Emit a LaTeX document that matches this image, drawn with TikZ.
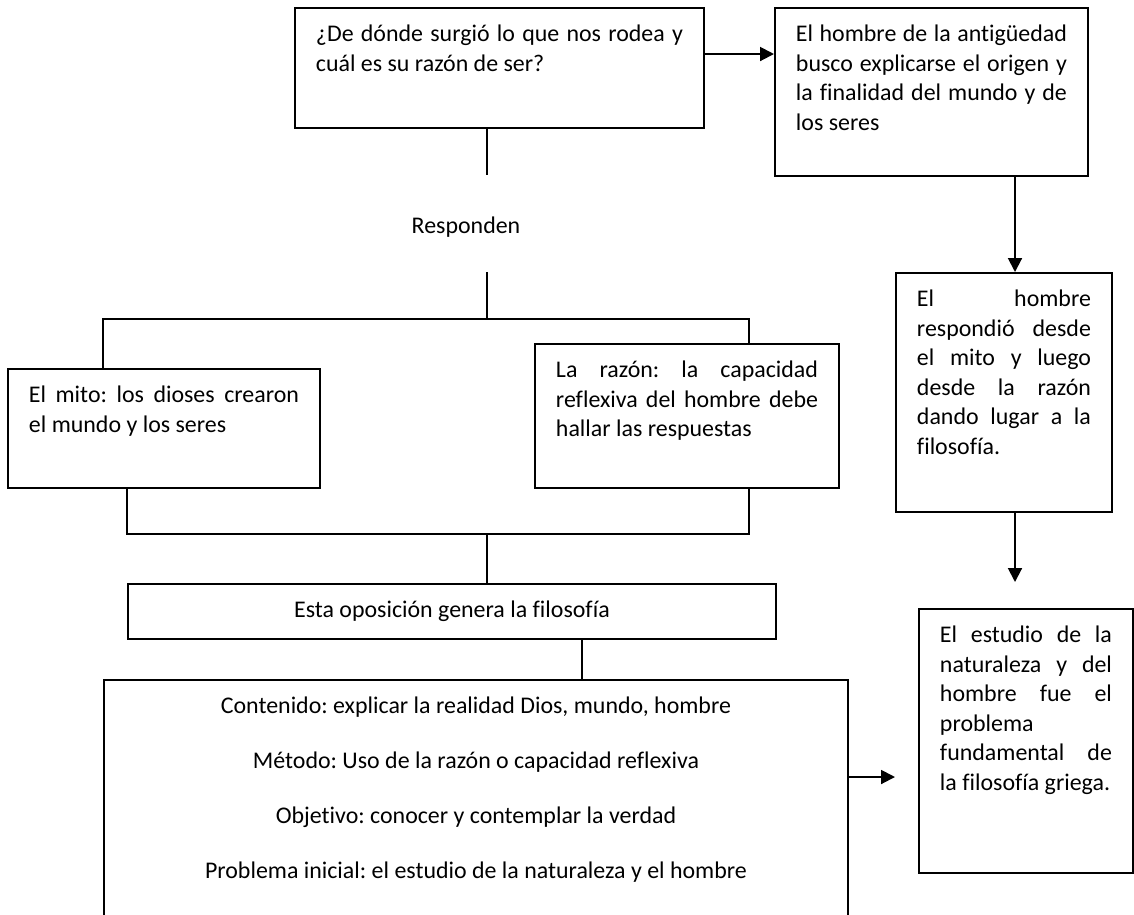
\documentclass[tikz,border=0pt]{standalone}
\usepackage{fontspec}
\setmainfont{Carlito}[Ligatures=NoCommon]
\usetikzlibrary{arrows.meta,calc,positioning}
\tolerance=10000
\hbadness=10000
\hfuzz=20pt
\frenchspacing
% texto de caja: ancho y alto en px
\newcommand{\cajatxt}[3]{\parbox[t][\dimexpr0.46pt*#2\relax][t]{\dimexpr0.46pt*#1\relax}{#3}}
% linea justificada
\newcommand{\lj}[1]{\makebox[\linewidth][s]{#1}\\}

\begin{document}
\begin{tikzpicture}[
    x=0.46pt, y=-0.46pt, line width=0.9pt,
    caja/.style={draw, anchor=north west, inner xsep=21*0.46pt, inner ysep=17*0.46pt, font=\fontsize{11}{13.6}\selectfont},
    texto/.style={font=\fontsize{11}{13.6}\selectfont},
    flecha/.style={-{Triangle[length=6.4pt, width=6.4pt]}}
]
    \path[use as bounding box, clip] (0,0) rectangle (1134,914);

    % Pregunta inicial y respuesta de la derecha
    \node[caja] (pregunta) at (294,7) {\cajatxt{367}{86}{\lj{¿De dónde surgió lo que nos rodea y}cuál es su razón de ser?}};
    \node[caja] (origen) at (774,7) {\cajatxt{271}{134}{\lj{El hombre de la antigüedad}\lj{busco explicarse el origen y}\lj{la finalidad del mundo y de}los seres}};
    \node[caja] (respondio) at (895,272) {\cajatxt{174}{205}{\lj{El hombre}\lj{respondió desde}\lj{el mito y luego}\lj{desde la razón}\lj{dando lugar a la}filosofía.}};
    \node[caja] (estudio) at (918,608) {\cajatxt{172}{230}{\lj{El estudio de la}\lj{naturaleza y del}\lj{hombre fue el}problema\\\lj{fundamental de}la filosofía griega.}};

    % Rama central
    \node[texto] (responden) at (466,227) {Responden};
    \node[caja] (mito) at (7,368) {\cajatxt{270}{85}{\lj{El mito: los dioses crearon}el mundo y los seres}};
    \node[caja] (razon) at (534,343) {\cajatxt{262}{110}{\lj{La razón: la capacidad}\lj{reflexiva del hombre debe}hallar las respuestas}};
    \node[caja, anchor=north west, minimum width=648*0.46pt, minimum height=49*0.46pt] (oposicion) at (127,583) {Esta oposición genera la filosofía};
    \node[caja] (aspectos) at (103,679) {\cajatxt{702}{226}{\centering Contenido: explicar la realidad Dios, mundo, hombre\\[11.7pt]
        Método: Uso de la razón o capacidad reflexiva\\[11.7pt]
        Objetivo: conocer y contemplar la verdad\\[11.7pt]
        Problema inicial: el estudio de la naturaleza y el hombre\par}};

    % Puntos de union
    \coordinate (corteA) at (487,175);
    \coordinate (corteB) at (487,272);
    \coordinate (ramaI) at (103,319);
    \coordinate (ramaD) at (749,319);
    \coordinate (uneI) at (127,534);
    \coordinate (uneC) at (487,534);
    \coordinate (uneD) at (749,534);
    \coordinate (baja) at (582,679);
    \coordinate (bajada) at (1015,0);
    \coordinate (puntaR) at (1015,582);
    \coordinate (puntaA) at (895,777);

    % Conectores
    \draw (corteA |- pregunta.south) -- (corteA);
    \draw (corteB) -- (corteB |- ramaI);
    \draw (ramaI |- mito.north) -- (ramaI) -- (ramaD) -- (ramaD |- razon.north);
    \draw (uneI |- mito.south) -- (uneI) -- (uneD) -- (uneD |- razon.south);
    \draw (uneC) -- (uneC |- oposicion.north);
    \draw (baja |- oposicion.south) -- (baja |- aspectos.north);

    \draw[flecha] ($(pregunta.north east)+(0,47)$) -- ($(origen.north west)+(0,47)$);
    \draw[flecha] (bajada |- origen.south) -- (bajada |- respondio.north);
    \draw[flecha] (puntaR |- respondio.south) -- (puntaR);
    \draw[flecha] (aspectos.east |- puntaA) -- (puntaA);
\end{tikzpicture}
\end{document}
